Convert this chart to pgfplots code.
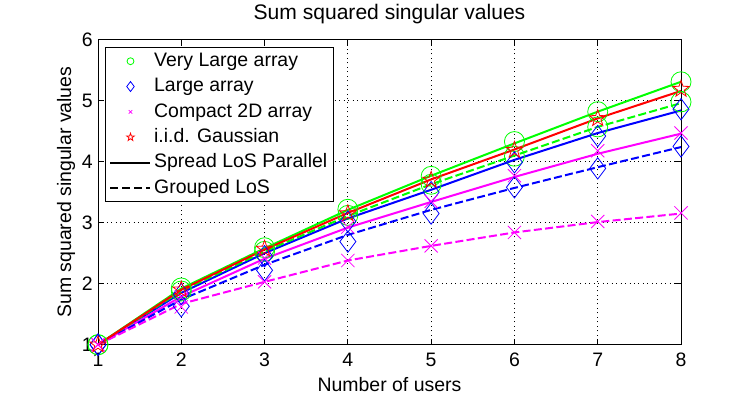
\documentclass[border=0pt]{standalone}
\usepackage{pgfplots}
\pgfplotsset{compat=1.18}
\usepackage{pgfplotstable}
\usepackage{fontspec}
\setmainfont{Liberation Sans}

\definecolor{mg}{rgb}{0,1,0}
\definecolor{mb}{rgb}{0,0,1}
\definecolor{mm}{rgb}{1,0,1}
\definecolor{mr}{rgb}{1,0,0}

% outlined five-pointed star (MATLAB 'p')
\pgfdeclareplotmark{pstar}{%
  \pgfpathmoveto{\pgfpointpolar{90}{\pgfplotmarksize}}%
  \pgfpathlineto{\pgfpointpolar{126}{0.4\pgfplotmarksize}}%
  \pgfpathlineto{\pgfpointpolar{162}{\pgfplotmarksize}}%
  \pgfpathlineto{\pgfpointpolar{198}{0.4\pgfplotmarksize}}%
  \pgfpathlineto{\pgfpointpolar{234}{\pgfplotmarksize}}%
  \pgfpathlineto{\pgfpointpolar{270}{0.4\pgfplotmarksize}}%
  \pgfpathlineto{\pgfpointpolar{306}{\pgfplotmarksize}}%
  \pgfpathlineto{\pgfpointpolar{342}{0.4\pgfplotmarksize}}%
  \pgfpathlineto{\pgfpointpolar{18}{\pgfplotmarksize}}%
  \pgfpathlineto{\pgfpointpolar{54}{0.4\pgfplotmarksize}}%
  \pgfpathclose
  \pgfusepathqstroke}

% analytic curves: g/b/m = very large / large / compact, s = spread, d = grouped
\pgfplotstableread{
n   gs    gd    bs    bd    ms    md    r
1   1.00  1.00  1.00  1.00  1.00  1.00  1.00
2   1.92  1.88  1.85  1.74  1.79  1.67  1.90
3   2.58  2.53  2.50  2.31  2.41  2.03  2.56
4   3.21  3.11  3.07  2.80  2.92  2.38  3.16
5   3.77  3.63  3.54  3.21  3.34  2.62  3.71
6   4.30  4.10  4.03  3.57  3.75  2.84  4.20
7   4.82  4.57  4.47  3.91  4.13  3.01  4.71
8   5.31  4.96  4.84  4.24  4.46  3.15  5.16
}\curves

% simulated points
\pgfplotstableread{
n   g1    g2    b1    b2    m1    m2    r
1   1.00  1.00  1.00  1.00  1.00  1.00  1.00
2   1.93  1.88  1.83  1.63  1.78  1.62  1.90
3   2.59  2.53  2.45  2.22  2.42  2.03  2.57
4   3.22  3.12  3.02  2.69  2.93  2.38  3.15
5   3.76  3.63  3.50  3.15  3.35  2.62  3.70
6   4.33  4.09  3.99  3.58  3.77  2.84  4.19
7   4.82  4.57  4.42  3.89  4.18  3.02  4.71
8   5.31  4.98  4.86  4.25  4.47  3.16  5.19
}\sims

\pgfplotsset{
  solidc/.style={line width=1.5pt, solid},
  dashc/.style={line width=1.5pt, dash pattern=on 6pt off 2.5pt},
  pts/.style={only marks, line width=0.6pt, mark options={solid}},
  markleg/.style={legend image code/.code={
    \draw[mark repeat=2, mark phase=2, ##1] plot coordinates {(0pt,0pt) (15pt,0pt) (30pt,0pt)};}},
  lineleg/.style={legend image code/.code={
    \draw[##1] (0pt,0pt) -- (30pt,0pt);}},
}

\begin{document}
\begin{tikzpicture}
\begin{axis}[
  name=ax,
  scale only axis, width=437.25pt, height=228.75pt,
  xmin=1, xmax=8, ymin=1, ymax=6,
  xtick={1,...,8}, ytick={1,...,6},
  clip=false,
  font=\fontsize{14.6}{17}\selectfont,
  /pgf/number format/assume math mode=true,
  axis line style={black, line width=0.75pt},
  tick style={black, line width=0.75pt},
  major tick length=4.5pt, tick align=inside,
  xtick pos=both, ytick pos=both,
  grid=major,
  grid style={black, line width=0.6pt, dash pattern=on 0.75pt off 2.6pt},
  xticklabel style={anchor=base, yshift=-16.5pt},
  yticklabel style={inner xsep=3.75pt},
  title={Sum squared singular values},
  title style={at={(axis description cs:0.5,1.0393)}, anchor=base,
    font=\fontsize{15.8}{18}\selectfont},
  xlabel={Number of users},
  xlabel style={at={(axis description cs:0.5,-0.1541)}, anchor=base},
  ylabel={Sum squared singular values},
  ylabel style={at={(axis description cs:-0.0463,0.5)}, anchor=base},
  legend style={at={(axis description cs:0.012,0.977)}, anchor=north west,
    draw=black, line width=0.75pt, fill=white,
    font=\fontsize{14.6}{17}\selectfont,
    inner xsep=3pt, inner ysep=1pt,
    nodes={inner ysep=2.5pt, text height=11pt, text depth=3pt},
    row sep=0pt},
  legend cell align=left,
]
% lines
\addplot[mg, solidc, forget plot] table[x=n, y=gs] {\curves};
\addplot[mb, solidc, forget plot] table[x=n, y=bs] {\curves};
\addplot[mm, solidc, forget plot] table[x=n, y=ms] {\curves};
\addplot[mg, dashc, forget plot] table[x=n, y=gd] {\curves};
\addplot[mb, dashc, forget plot] table[x=n, y=bd] {\curves};
\addplot[mm, dashc, forget plot] table[x=n, y=md] {\curves};
\addplot[mr, solidc, forget plot] table[x=n, y=r] {\curves};
% simulated points
\addplot[mg, pts, mark=o, mark size=7.5pt, forget plot] table[x=n, y=g1] {\sims};
\addplot[mg, pts, mark=o, mark size=7.5pt, forget plot] table[x=n, y=g2] {\sims};
\addplot[mb, pts, mark=diamond, mark size=8pt, forget plot] table[x=n, y=b1] {\sims};
\addplot[mb, pts, mark=diamond, mark size=8pt, forget plot] table[x=n, y=b2] {\sims};
\addplot[mm, pts, mark=x, mark size=7pt, forget plot] table[x=n, y=m1] {\sims};
\addplot[mm, pts, mark=x, mark size=7pt, forget plot] table[x=n, y=m2] {\sims};
\addplot[mr, pts, mark=pstar, mark size=6.5pt, forget plot] table[x=n, y=r] {\sims};
% legend
\addlegendimage{mg, only marks, mark=o, mark size=2.6pt, line width=0.6pt, markleg}
\addlegendentry{Very Large array}
\addlegendimage{mb, only marks, mark=diamond, mark size=3.75pt, line width=0.6pt, markleg}
\addlegendentry{Large array}
\addlegendimage{mm, only marks, mark=x, mark size=1.9pt, line width=0.6pt, markleg}
\addlegendentry{Compact 2D array}
\addlegendimage{mr, only marks, mark=pstar, mark size=3pt, line width=0.6pt, markleg}
\addlegendentry{i.i.d. Gaussian}
\addlegendimage{black, line width=1.5pt, solid, lineleg}
\addlegendentry{Spread LoS Parallel}
\addlegendimage{black, line width=1.5pt, dash pattern=on 6pt off 3pt, lineleg}
\addlegendentry{Grouped LoS}
\end{axis}
\path (ax.south west) ++(-73.5pt,-38.25pt) coordinate (bbl);
\path (ax.north east) ++(54pt,24.75pt) coordinate (btr);
\path (bbl) rectangle (btr);
\end{tikzpicture}
\end{document}
